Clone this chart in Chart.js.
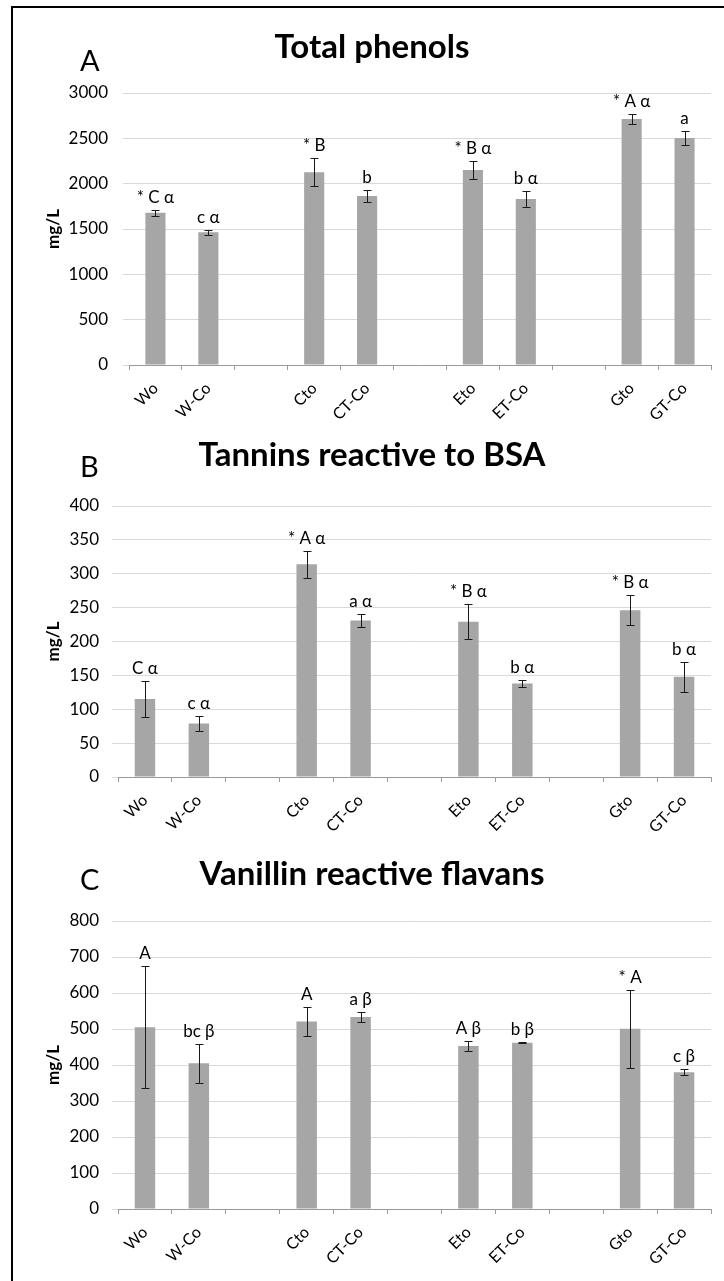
<!DOCTYPE html>
<html>
<head>
<meta charset="utf-8">
<script src="https://cdn.jsdelivr.net/npm/chart.js@4.4.1/dist/chart.umd.min.js"></script>
<style>
  body { margin: 0; background: #fff; }
  #page { position: relative; width: 724px; height: 1281px; overflow: hidden; }
  canvas { position: absolute; left: 0; }
  #frame { position: absolute; left: 11px; top: 6px; width: 800px; height: 1400px;
           border-left: 2px solid #000; border-top: 2px solid #000; pointer-events: none; }
</style>
</head>
<body>
<div id="page">
  <canvas id="chartA" width="724" height="425" style="top:0px"></canvas>
  <canvas id="chartB" width="724" height="425" style="top:425px"></canvas>
  <canvas id="chartC" width="724" height="431" style="top:850px"></canvas>
  <div id="frame"></div>
</div>
<script>
// categories (empty slots are the gaps between groups)
const categories = ['Wo', 'W-Co', '', 'Cto', 'CT-Co', '', 'Eto', 'ET-Co', '', 'Gto', 'GT-Co'];

// A - Total phenols
const phenolsMean = [1680, 1463, null, 2125, 1865, null, 2150, 1830, null, 2712, 2505];
const phenolsErr = [35, 25, null, 155, 67, null, 95, 85, null, 55, 75];
const phenolsLetters = ['* C α', 'c α', '', '* B', 'b', '', '* B α', 'b α', '', '* A α', 'a'];

// B - Tannins reactive to BSA
const tanninsMean = [115, 79, null, 314, 231, null, 229, 138, null, 246, 148];
const tanninsErr = [26, 11, null, 20, 9, null, 26, 5, null, 22, 22];
const tanninsLetters = ['C α', 'c α', '', '* A α', 'a α', '', '* B α', 'b α', '', '* B α', 'b α'];

// C - Vanillin reactive flavans
const flavansMean = [505, 405, null, 521, 533, null, 453, 462, null, 501, 380];
const flavansErr = [170, 54, null, 40, 13, null, 13, 2, null, 108, 9];
const flavansLetters = ['A', 'bc β', '', 'A', 'a β', '', 'A β', 'b β', '', '* A', 'c β'];

Chart.defaults.font.family = 'Lato';
Chart.defaults.color = '#000';

// error bars + significance letters
const errorBars = {
    id: 'errorBars',
    afterDatasetsDraw(chart, args, opts) {
        const ctx = chart.ctx;
        const yScale = chart.scales.y;
        const bars = chart.getDatasetMeta(0).data;
        ctx.save();
        ctx.strokeStyle = '#1a1a1a';
        ctx.lineWidth = 1;
        ctx.fillStyle = '#000';
        ctx.font = '17px Lato';
        ctx.textAlign = 'center';
        ctx.textBaseline = 'bottom';
        for (let i = 0; i < bars.length; i++) {
            const v = opts.means[i];
            if (v === null) continue;
            const e = opts.errs[i];
            const x = Math.round(bars[i].x) + 0.5;
            const yTop = Math.round(yScale.getPixelForValue(v + e)) + 0.5;
            const yBot = Math.round(yScale.getPixelForValue(v - e)) + 0.5;
            ctx.beginPath();
            ctx.moveTo(x, yTop); ctx.lineTo(x, yBot);
            ctx.moveTo(x - 4, yTop); ctx.lineTo(x + 4, yTop);
            ctx.moveTo(x - 4, yBot); ctx.lineTo(x + 4, yBot);
            ctx.stroke();
            ctx.fillText(opts.letters[i], bars[i].x, yTop - 4);
        }
        ctx.restore();
    }
};

// panel title and letter
const panelTitle = {
    id: 'panelTitle',
    afterDraw(chart, args, opts) {
        const ctx = chart.ctx;
        ctx.save();
        ctx.fillStyle = '#000';
        ctx.textBaseline = 'alphabetic';
        ctx.textAlign = 'center';
        ctx.font = 'bold 33px Lato';
        ctx.fillText(opts.text, 372, opts.titleY);
        ctx.textAlign = 'left';
        ctx.font = '29px Lato';
        ctx.fillText(opts.letter, 80, opts.letterY);
        ctx.restore();
    }
};

function makeChart(id, means, errs, letters, maxY, stepY, geo) {
    return new Chart(document.getElementById(id), {
        type: 'bar',
        data: {
            labels: categories,
            datasets: [{
                data: means,
                backgroundColor: '#a6a6a6',
                borderWidth: 0,
                categoryPercentage: 1,
                barPercentage: 0.38
            }]
        },
        options: {
            responsive: false,
            animation: false,
            events: [],
            layout: { padding: { top: geo.top, right: 13, bottom: 0, left: 0 } },
            plugins: {
                legend: { display: false },
                tooltip: { enabled: false },
                errorBars: { means: means, errs: errs, letters: letters },
                panelTitle: { text: geo.title, letter: geo.letter, titleY: geo.titleY, letterY: geo.letterY }
            },
            scales: {
                x: {
                    type: 'category',
                    offset: true,
                    grid: { offset: true, drawOnChartArea: false, tickLength: 5, color: '#9a9a9a' },
                    border: { color: '#9a9a9a' },
                    ticks: { autoSkip: false, maxRotation: 45, minRotation: 45, padding: 9, font: { size: 16 } },
                    afterFit: function (s) { s.height = geo.xHeight; }
                },
                y: {
                    min: 0,
                    max: maxY,
                    ticks: {
                        stepSize: stepY, padding: geo.tickPad, font: { size: 17 },
                        callback: function (value) { return String(value); }
                    },
                    grid: { color: '#d9d9d9', tickLength: 6 },
                    border: { display: false },
                    title: { display: true, text: 'mg/L', font: { size: 17, weight: 'bold' }, padding: { top: 43, bottom: 4 } },
                    afterFit: function (s) { s.width = geo.yWidth; }
                }
            }
        },
        plugins: [errorBars, panelTitle]
    });
}

makeChart('chartA', phenolsMean, phenolsErr, phenolsLetters, 3000, 500,
    { top: 93, xHeight: 60, yWidth: 129, tickPad: 15, title: 'Total phenols', letter: 'A', titleY: 58, letterY: 71 });
makeChart('chartB', tanninsMean, tanninsErr, tanninsLetters, 400, 50,
    { top: 81, xHeight: 73, yWidth: 118, tickPad: 13, title: 'Tannins reactive to BSA', letter: 'B', titleY: 41, letterY: 52 });
makeChart('chartC', flavansMean, flavansErr, flavansLetters, 800, 100,
    { top: 71, xHeight: 72, yWidth: 118, tickPad: 13, title: 'Vanillin reactive flavans', letter: 'C', titleY: 35, letterY: 40 });
</script>
</body>
</html>
